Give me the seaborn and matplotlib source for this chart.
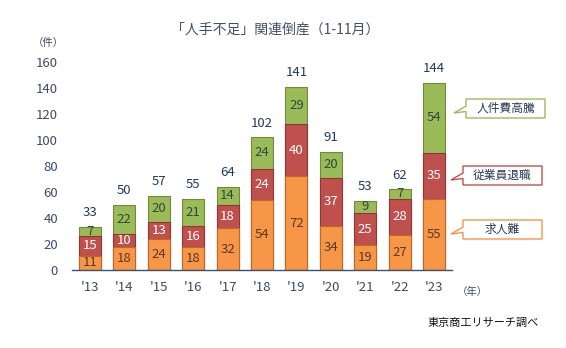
import matplotlib
matplotlib.use("Agg")
import matplotlib.pyplot as plt
import seaborn as sns
import numpy as np
import pandas as pd
from matplotlib.patches import Polygon

years = ["'13", "'14", "'15", "'16", "'17", "'18", "'19", "'20", "'21", "'22", "'23"]
kyujinnan = [11, 18, 24, 18, 32, 54, 72, 34, 19, 27, 55]
taishoku = [15, 10, 13, 16, 18, 24, 40, 37, 25, 28, 35]
jinkenhi = [7, 22, 20, 21, 14, 24, 29, 20, 9, 7, 54]
totals = [33, 50, 57, 55, 64, 102, 141, 91, 53, 62, 144]
series_names = ["求人難", "従業員退職", "人件費高騰"]
yticks = [0, 20, 40, 60, 80, 100, 120, 140, 160]

sns.set_theme(style="white")
plt.rcParams['font.family'] = ['Noto Sans CJK JP', 'DejaVu Sans']

C_OR, C_RD, C_GR = "#F79646", "#C0504D", "#9BBB59"
E_OR, E_RD, E_GR = "#B86A2A", "#8C3836", "#71893F"
TXT = "#3A4B6B"

fig = plt.figure(figsize=(5.66, 3.48), dpi=100)
ax = fig.add_axes([72/566, (348-270)/348, (452-72)/566, (270-62)/348])

df = pd.DataFrame({"year": years, "a": kyujinnan, "b": taishoku, "c": jinkenhi})
df["ab"] = df["a"] + df["b"]
df["abc"] = df["ab"] + df["c"]

bw = 22 / 34.5
sns.barplot(data=df, x="year", y="abc", color=C_GR, saturation=1, width=bw,
            edgecolor=E_GR, linewidth=0.8, ax=ax)
sns.barplot(data=df, x="year", y="ab", color=C_RD, saturation=1, width=bw,
            edgecolor=E_RD, linewidth=0.8, ax=ax)
sns.barplot(data=df, x="year", y="a", color=C_OR, saturation=1, width=bw,
            edgecolor=E_OR, linewidth=0.8, ax=ax)

fs = 9.5
for i in range(len(years)):
    a, b, c = kyujinnan[i], taishoku[i], jinkenhi[i]
    ax.text(i, a / 2, str(a), ha="center", va="center", fontsize=fs, color="#5A3A28")
    ax.text(i, a + b / 2, str(b), ha="center", va="center", fontsize=fs, color="white")
    ax.text(i, a + b + c / 2, str(c), ha="center", va="center", fontsize=fs, color="#2F4A3A")
    ax.text(i, totals[i] + 6, str(totals[i]), ha="center", va="bottom", fontsize=fs, color="#1F3864")

ax.set_ylim(0, 160)
ax.set_xlim(-0.5 - 0.02, len(years) - 0.5 + 0.02)
ax.set_yticks(yticks)
ax.set_yticklabels([str(t) for t in yticks], fontsize=fs, color=TXT)
ax.tick_params(axis="x", labelsize=fs, labelcolor=TXT, length=0, pad=8)
ax.tick_params(axis="y", length=0, pad=10)
ax.set_xlabel("")
ax.set_ylabel("")
for s in ["top", "right", "left"]:
    ax.spines[s].set_visible(False)
ax.spines["bottom"].set_color("#3B5272")
ax.spines["bottom"].set_linewidth(1.0)
ax.grid(False)

fig.text(275/566, 1 - 30/348, "「人手不足」関連倒産（1-11月）", ha="center", va="center",
         fontsize=10, color="#404F6A")
fig.text(48/566, 1 - 43/348, "（件）", ha="center", va="center", fontsize=7.5, color=TXT)
fig.text(472/566, 1 - 292/348, "（年）", ha="center", va="center", fontsize=7.5, color=TXT)
fig.text(483/566, 1 - 323/348, "東京商工リサーチ調べ", ha="center", va="center",
         fontsize=8, color="#111111")

# callout legend boxes (figure pixel coords)
callouts = [
    ("人件費高騰", C_GR, 466, 545, 99, 118, 109),
    ("従業員退職", C_RD, 463, 542, 166, 185, 176),
    ("求人難", C_OR, 463, 542, 220, 239, 230),
]
for name, col, x0, x1, y0, y1, yp in callouts:
    X0, X1 = x0 / 566, x1 / 566
    Y0, Y1 = 1 - y1 / 348, 1 - y0 / 348
    YP = 1 - yp / 348
    pts = [(X0, Y1), (X1, Y1), (X1, Y0), (X0, Y0),
           (X0, YP - 2.5/348), (X0 - 12/566, YP - 4/348), (X0, YP + 3/348)]
    poly = Polygon(pts, closed=True, transform=fig.transFigure, facecolor="white",
                   edgecolor=col, linewidth=1.0)
    fig.patches.append(poly)
    fig.text((X0 + X1) / 2, (Y0 + Y1) / 2, name, ha="center", va="center",
             fontsize=8.5, color="#2A3A55")

fig.savefig("out.png", dpi=100)
